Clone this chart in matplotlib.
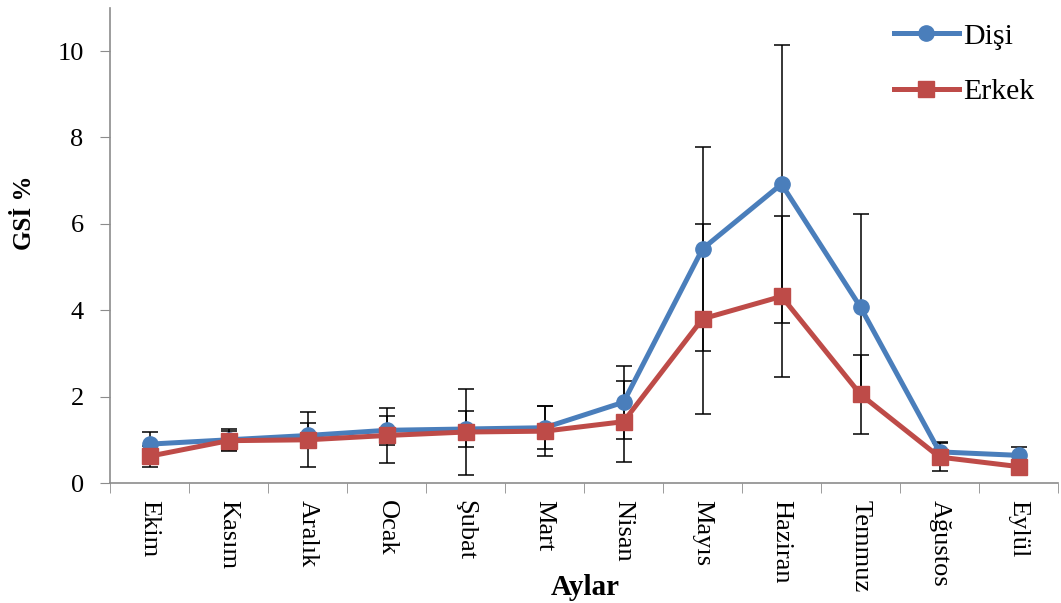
import matplotlib.pyplot as plt
import numpy as np

plt.rcParams['font.family'] = ['Liberation Serif', 'DejaVu Serif']

aylar = ['Ekim', 'Kasım', 'Aralık', 'Ocak', 'Şubat', 'Mart', 'Nisan',
         'Mayıs', 'Haziran', 'Temmuz', 'Ağustos', 'Eylül']
disi = [0.90, 1.00, 1.10, 1.22, 1.25, 1.28, 1.87, 5.42, 6.92, 4.07, 0.72, 0.64]
disi_hata = [0.29, 0.24, 0.28, 0.33, 0.42, 0.50, 0.84, 2.37, 3.22, 2.15, 0.24, 0.19]
erkek = [0.62, 0.98, 1.00, 1.10, 1.18, 1.20, 1.42, 3.80, 4.32, 2.05, 0.60, 0.38]
erkek_hata = [0.24, 0.23, 0.64, 0.63, 0.99, 0.58, 0.93, 2.20, 1.87, 0.92, 0.32, 0.10]

mavi = '#4a7ebb'
kirmizi = '#be4b48'
gri = '#8c8c8c'

x = np.arange(len(aylar))

fig = plt.figure(figsize=(10.61, 6.03), dpi=100)
ax = fig.add_axes([0.1037, 0.199, 0.8935, 0.788])

# hata çubukları (çizgilerin arkasında)
ax.errorbar(x, disi, yerr=disi_hata, fmt='none', ecolor='black',
            elinewidth=1.1, capsize=5.5, capthick=1.1, zorder=1)
ax.errorbar(x, erkek, yerr=erkek_hata, fmt='none', ecolor='black',
            elinewidth=1.1, capsize=5.5, capthick=1.1, zorder=1)

ax.plot(x, disi, color=mavi, lw=3.6, marker='o', ms=11, label='Dişi', zorder=3)
ax.plot(x, erkek, color=kirmizi, lw=3.6, marker='s', ms=11, label='Erkek', zorder=4)

ax.set_xlim(-0.5, len(aylar) - 0.5)
ax.set_ylim(0, 11)
ax.set_yticks(np.arange(0, 11, 2))
ax.tick_params(axis='y', labelsize=19, length=7, color=gri, direction='out', pad=12)

ax.set_xticks(x)
ax.set_xticklabels(aylar, rotation=-90, fontsize=19, va='top', ha='center')
ax.set_xticks(np.arange(-0.5, len(aylar)), minor=True)
ax.tick_params(axis='x', which='major', length=0, pad=12)
ax.tick_params(axis='x', which='minor', length=7, color=gri, direction='out')

for s in ['top', 'right']:
    ax.spines[s].set_visible(False)
for s in ['left', 'bottom']:
    ax.spines[s].set_color(gri)
    ax.spines[s].set_linewidth(1.2)

fig.text(0.023, 0.647, 'GSİ %', fontsize=18, fontweight='bold', rotation=90,
         ha='center', va='center')
fig.text(0.552, 0.025, 'Aylar', fontsize=21, fontweight='bold', ha='center', va='center')

ax.legend(loc='upper right', bbox_to_anchor=(1.003, 1.025), frameon=False, fontsize=21.5,
          handlelength=2.2, labelspacing=0.95, handletextpad=0.12)

plt.savefig('out.png', dpi=100)
